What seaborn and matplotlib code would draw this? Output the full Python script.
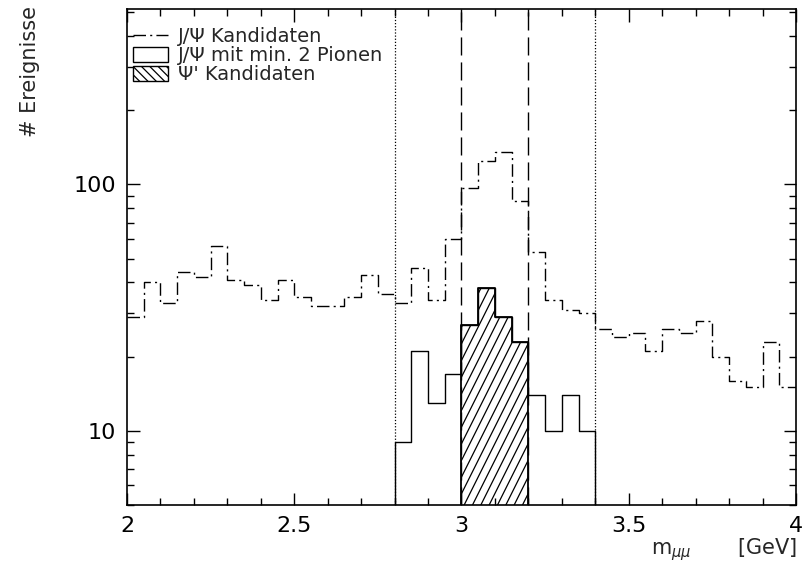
import numpy as np
import matplotlib
matplotlib.use("Agg")
import matplotlib.pyplot as plt
import matplotlib.hatch as mhatch
from matplotlib.path import Path
import seaborn as sns
from matplotlib.patches import Patch
from matplotlib.lines import Line2D
from matplotlib.ticker import LogLocator, NullFormatter, FixedLocator, FixedFormatter, MultipleLocator

# ---- data ----
edges_all = [round(v, 3) for v in np.linspace(2.0, 4.0, 41)]
jpsi_counts = [29, 40, 33, 44, 42, 56, 41, 39, 34, 41, 35, 32, 32, 35, 43, 36, 33, 46, 34, 60,
               97, 124, 135, 86, 53, 34, 31, 30, 26, 24, 25, 21, 26, 25, 28, 20, 16, 15, 23, 15]
pion_edges = [round(v, 3) for v in np.linspace(2.8, 3.4, 13)]
pion_counts = [9, 21, 13, 17, 27, 38, 29, 23, 14, 10, 14, 10]
psi_edges = [round(v, 3) for v in np.linspace(3.0, 3.2, 5)]
psi_counts = [27, 38, 29, 23]
dotted_cuts = [2.8, 3.4]
dashed_cuts = [3.0, 3.2]
legend_labels = ["J/\u03a8 Kandidaten", "J/\u03a8 mit min. 2 Pionen", "\u03a8' Kandidaten"]


# steeper "/" hatching (like the reference)
class SteepHatch(mhatch.HatchPatternBase):
    def __init__(self, hatch, density):
        self.n = int(hatch.count('/') * density)
        self.ks = np.arange(-(self.n // 2), self.n + 1) if self.n else np.array([])
        self.num_vertices = len(self.ks) * 2

    def set_vertices_and_codes(self, vertices, codes):
        x0 = self.ks / self.n
        vertices[0::2, 0] = x0
        vertices[0::2, 1] = 0.0
        vertices[1::2, 0] = x0 + 0.5
        vertices[1::2, 1] = 1.0
        codes[0::2] = Path.MOVETO
        codes[1::2] = Path.LINETO


mhatch._hatch_types = [SteepHatch if t is mhatch.NorthEastHatch else t
                       for t in mhatch._hatch_types]

sns.set_style("ticks")
plt.rcParams["font.family"] = ["DejaVu Sans"]
plt.rcParams["hatch.linewidth"] = 0.9

fig = plt.figure(figsize=(8.02, 5.79), dpi=100)
ax = fig.add_axes([127/802, 1-505/579, (796-127)/802, (505-9)/579])
ax.set_yscale("log")


def centers(e):
    e = np.asarray(e)
    return (e[:-1] + e[1:]) / 2


sns.histplot(x=centers(edges_all), weights=jpsi_counts, bins=edges_all, element="step",
             fill=False, color="black", lw=1.0, ls=(0, (9, 3, 1.5, 3)), ax=ax)
sns.histplot(x=centers(pion_edges), weights=pion_counts, bins=pion_edges, element="step",
             fill=True, color="black", facecolor="none", edgecolor="black", lw=1.0, ax=ax)
sns.histplot(x=centers(psi_edges), weights=psi_counts, bins=psi_edges, element="step",
             fill=True, color="black", facecolor="none", edgecolor="black", lw=1.3,
             hatch="//", ax=ax)

for c in dotted_cuts:
    ax.axvline(c, color="black", lw=0.9, ls=(0, (1, 1.5)))
for c in dashed_cuts:
    ax.axvline(c, color="black", lw=1.0, ls=(0, (13, 5)))

ax.set_xlim(2.0, 4.0)
ax.set_ylim(5.0, 515)
ax.set_xlabel("")
ax.set_ylabel("")

ax.xaxis.set_major_locator(FixedLocator([2.0, 2.5, 3.0, 3.5, 4.0]))
ax.xaxis.set_major_formatter(FixedFormatter(["2", "2.5", "3", "3.5", "4"]))
ax.xaxis.set_minor_locator(MultipleLocator(0.1))
ax.yaxis.set_major_locator(FixedLocator([10, 100]))
ax.yaxis.set_major_formatter(FixedFormatter(["10", "100"]))
ax.yaxis.set_minor_locator(LogLocator(base=10, subs=np.arange(2, 10)))
ax.yaxis.set_minor_formatter(NullFormatter())

ax.tick_params(which="both", direction="in", top=True, right=True, width=1.0, colors="black")
ax.tick_params(which="major", length=9, labelsize=16, pad=8)
ax.tick_params(which="minor", length=5)
for s in ax.spines.values():
    s.set_linewidth(1.2)
    s.set_color("black")

handles = [Line2D([0], [0], color="black", lw=1.0, ls=(0, (9, 3, 1.5, 3))),
           Patch(facecolor="white", edgecolor="black", lw=1.0),
           Patch(facecolor="white", edgecolor="black", lw=1.0, hatch="\\\\\\\\")]
ax.legend(handles, legend_labels, loc="upper left", bbox_to_anchor=(0.0, 0.975),
          frameon=False, fontsize=14,
          handlelength=1.8, handleheight=0.75, handletextpad=0.5, labelspacing=0.0,
          borderaxespad=0.0, borderpad=0.3)

fig.text(0.038, 0.99, "# Ereignisse", rotation=90, ha="center", va="top", fontsize=15)
fig.text(0.994, 1-550/579, "m$_{\\mu\\mu}$       [GeV]", ha="right", va="center", fontsize=15)

fig.savefig("out.png", dpi=100)
